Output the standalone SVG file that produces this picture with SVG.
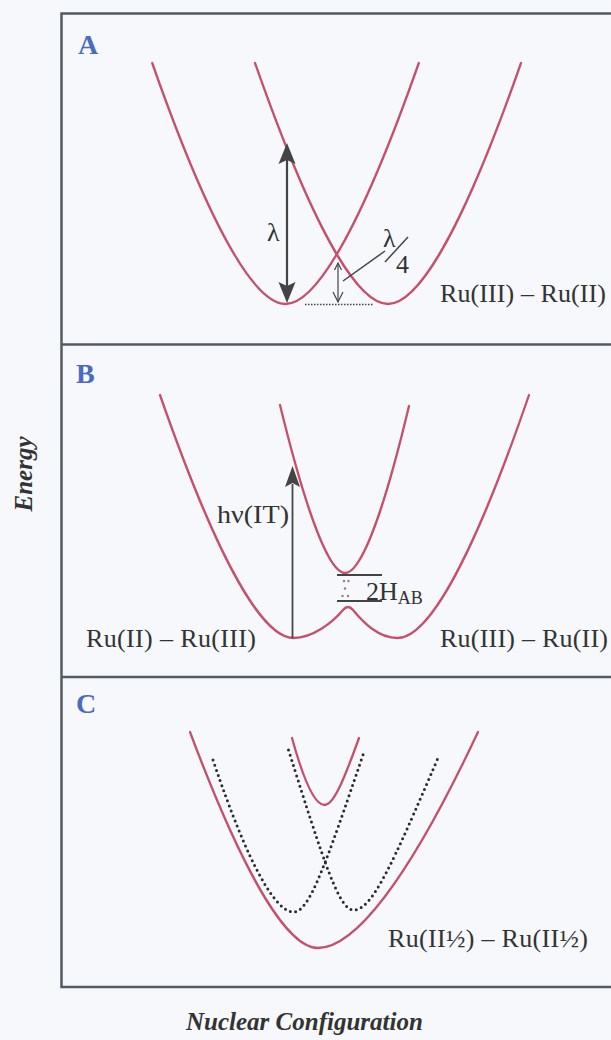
<svg xmlns="http://www.w3.org/2000/svg" width="611" height="1040" viewBox="0 0 611 1040">
<style>
.curve{fill:none;stroke:#c5506c;stroke-width:2.3;stroke-linecap:round}
.dots{fill:none;stroke:#2a2a2a;stroke-width:3;stroke-linecap:round;stroke-dasharray:0 5.4}
.frame{fill:none;stroke:#555a60;stroke-width:2.5}
.lbl{font-family:"Liberation Serif","Times New Roman",serif;font-weight:bold;font-size:28px;fill:#4a6cbf}
.t{font-family:"Liberation Serif","Times New Roman",serif;font-size:26px;fill:#333}
.ax{font-family:"Liberation Serif","Times New Roman",serif;font-weight:bold;font-style:italic;fill:#333}
.ln{stroke:#444;fill:none}
.head{fill:#444}
</style>
<rect x="0" y="0" width="611" height="1040" fill="#f6f8fb"/>
<g id="frames">
<path class="frame" d="M611,13.5 H61.5 V987 H611 M61.5,344.5 H611 M61.5,677 H611"/>
</g>
<g id="panelA">
<text class="lbl" x="78" y="54">A</text>
<path class="curve" d="M152.2,63 C212.2,234.1 256.2,304 285.5,304 C314.8,304 358.8,234.1 418.8,63"/>
<path class="curve" d="M255,63 C314.9,234.1 358.7,304 388,304 C417.3,304 461.2,234.1 521,63"/>
<line class="ln" x1="287" y1="158" x2="287" y2="290" stroke-width="2.2"/>
<polygon class="head" points="287,143 278.5,164 287,160 295.5,164"/>
<polygon class="head" points="287,303 278.5,282 287,286 295.5,282"/>
<text class="t" x="267" y="241">λ</text>
<line class="ln" x1="305" y1="304.5" x2="374" y2="304.5" stroke-width="1.5" stroke-dasharray="1.5 1.5"/>
<line class="ln" x1="338" y1="263" x2="338" y2="302" stroke-width="1.2"/>
<polyline class="ln" points="333,292 338,302 343,292" stroke-width="1.2"/>
<polyline class="ln" points="334.5,270 338,263 341.5,270" stroke-width="1.2"/>
<line class="ln" x1="343" y1="281" x2="385" y2="251" stroke-width="1.5" stroke="#333"/>
<text class="t" x="383" y="247" font-size="24">λ</text>
<line class="ln" x1="385" y1="262" x2="408" y2="237" stroke-width="1.5" stroke="#333"/>
<text class="t" x="396" y="273" font-size="24">4</text>
<text class="t" x="440" y="302" textLength="166" lengthAdjust="spacing">Ru(III) – Ru(II)</text>
</g>
<g id="panelB">
<text class="lbl" x="76" y="383">B</text>
<path class="curve" d="M160,395 C220.1,567.5 264.1,638 293.5,638 C313,638 333,622 343,610 Q348,604 353,610 C363,622 378,638 397.5,638 C426.4,638 469.8,567.5 529,395"/>
<path class="curve" d="M280,405 C309.2,524.3 330.7,573 345,573 C359.3,573 380.8,524.3 409,406"/>
<line class="ln" x1="292.5" y1="484" x2="292.5" y2="638" stroke-width="1.8"/>
<polygon class="head" points="292.5,466 285,487 292.5,483 300,487"/>
<text class="t" x="217" y="523" textLength="72" lengthAdjust="spacingAndGlyphs">hν(IT)</text>
<line class="ln" x1="337" y1="575" x2="382" y2="575" stroke-width="1.8" stroke="#333"/>
<line class="ln" x1="337" y1="601" x2="382" y2="601" stroke-width="1.8" stroke="#333"/>
<g fill="#9a7a82">
<circle cx="344" cy="581" r="1.2"/><circle cx="348.5" cy="581" r="1.2"/>
<circle cx="345" cy="588.5" r="1.2"/>
<circle cx="342.5" cy="596" r="1.2"/><circle cx="348" cy="596" r="1.2"/>
</g>
<text class="t" x="366" y="600">2H<tspan font-size="18" dy="4">AB</tspan></text>
<text class="t" x="86" y="647" textLength="170" lengthAdjust="spacing">Ru(II) – Ru(III)</text>
<text class="t" x="440" y="647" textLength="168" lengthAdjust="spacing">Ru(III) – Ru(II)</text>
</g>
<g id="panelC">
<text class="lbl" x="76" y="713">C</text>
<path class="dots" d="M213,760 C249.3,867.9 276,912 293.7,912 C309.2,912 325.3,865.6 364,752"/>
<path class="dots" d="M288.5,750 C324.3,863.6 339.2,910 353.5,910 C372.1,910 391.5,865.9 438,758"/>
<path class="curve" d="M190,732 C247.6,885.4 289.8,948 318,948 C353.2,948 406,885.4 478,732"/>
<path class="curve" d="M292,738 C305.1,785.6 316.1,805 324.5,805 C332.9,805 341.9,785.6 359,738"/>
<text class="t" x="388" y="947" textLength="200" lengthAdjust="spacing">Ru(II½) – Ru(II½)</text>
</g>
<g id="axes">
<text class="ax" font-size="25" text-anchor="middle" transform="translate(32,474) rotate(-90)">Energy</text>
<text class="ax" font-size="25" x="186" y="1030">Nuclear Configuration</text>
</g>
</svg>
